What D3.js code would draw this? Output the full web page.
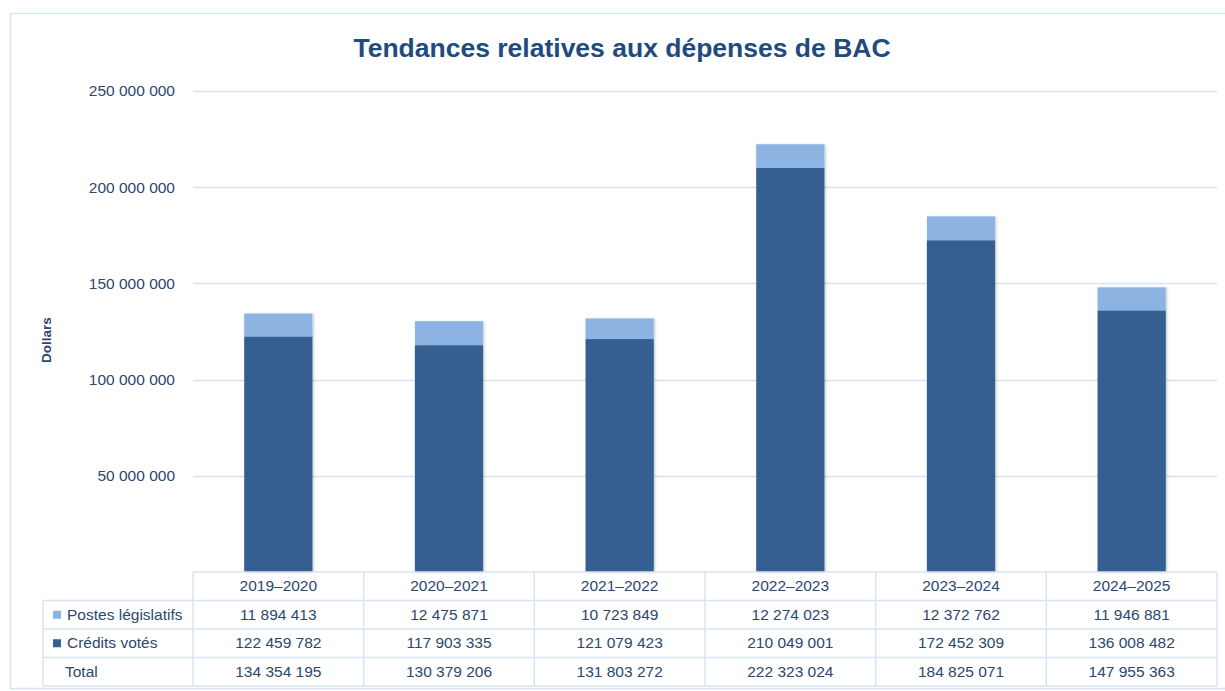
<!DOCTYPE html>
<html>
<head>
<meta charset="utf-8">
<script src="https://cdn.jsdelivr.net/npm/d3@7"></script>
<style>
  body { margin: 0; background: #fff; }
  text { font-family: "Liberation Sans", Arial, sans-serif; }
</style>
</head>
<body>
<svg id="chart" width="1225" height="691"></svg>
<script>
// data
const years = ["2019–2020", "2020–2021", "2021–2022", "2022–2023", "2023–2024", "2024–2025"];
const postes = [11894413, 12475871, 10723849, 12274023, 12372762, 11946881];
const credits = [122459782, 117903335, 121079423, 210049001, 172452309, 136008482];
const totals = [134354195, 130379206, 131803272, 222323024, 184825071, 147955363];
const yTicks = [50000000, 100000000, 150000000, 200000000, 250000000];

const darkBlue = "#365f91";
const lightBlue = "#8db3e2";
const textCol = "#2c4770";
const lineCol = "#d8e3f2";

let fr = d3.formatLocale({ decimal: ",", thousands: " ", grouping: [3], currency: ["", " $"] });
let fmt = fr.format(",d");

let svg = d3.select("#chart");

let left = 193, right = 1217;
let plotTop = 91, base = 572;
let rowH = 28.5;

// frame
svg.append("rect")
  .attr("x", 10.5).attr("y", 13.5)
  .attr("width", 1225).attr("height", 675)
  .attr("fill", "none")
  .attr("stroke", lineCol)
  .attr("stroke-width", 1.5);

svg.append("text")
  .attr("x", 622).attr("y", 57)
  .attr("text-anchor", "middle")
  .attr("font-size", 26.5)
  .attr("font-weight", "bold")
  .attr("fill", "#1f4b7e")
  .text("Tendances relatives aux dépenses de BAC");

let x = d3.scaleBand().domain(years).range([left, right]);
let y = d3.scaleLinear().domain([0, 250000000]).range([base, plotTop]);

// gridlines
svg.append("g")
  .selectAll("line")
  .data(yTicks)
  .join("line")
  .attr("x1", left).attr("x2", right)
  .attr("y1", (d) => Math.round(y(d)) + 0.5)
  .attr("y2", (d) => Math.round(y(d)) + 0.5)
  .attr("stroke", lineCol)
  .attr("stroke-width", 1.5);

let yAxis = d3.axisLeft(y).tickValues(yTicks).tickFormat(fmt).tickSize(0).tickPadding(18);
let ga = svg.append("g").attr("transform", "translate(" + left + ",0)").call(yAxis);
ga.select(".domain").remove();
ga.selectAll("text")
  .attr("font-size", 15.5)
  .attr("fill", textCol)
  .style("font-family", "Liberation Sans, Arial, sans-serif");

svg.append("text")
  .attr("transform", "translate(51,340) rotate(-90)")
  .attr("text-anchor", "middle")
  .attr("font-size", 13.5)
  .attr("font-weight", "bold")
  .attr("fill", textCol)
  .text("Dollars");

// shadow for bars
let defs = svg.append("defs");
let f = defs.append("filter").attr("id", "sh").attr("x", "-10%").attr("y", "-10%").attr("width", "130%").attr("height", "130%");
f.append("feDropShadow").attr("dx", 1.5).attr("dy", 0.5).attr("stdDeviation", 1.2).attr("flood-color", "#000").attr("flood-opacity", 0.18);

let bw = x.bandwidth() * 0.4;
let bars = svg.append("g").attr("filter", "url(#sh)");

bars.selectAll(".cred")
  .data(years)
  .join("rect")
  .attr("class", "cred")
  .attr("x", (d) => x(d) + (x.bandwidth() - bw) / 2)
  .attr("width", bw)
  .attr("y", (d, i) => y(credits[i]))
  .attr("height", (d, i) => y(0) - y(credits[i]))
  .attr("fill", darkBlue);

bars.selectAll(".post")
  .data(years)
  .join("rect")
  .attr("class", "post")
  .attr("x", (d) => x(d) + (x.bandwidth() - bw) / 2)
  .attr("width", bw)
  .attr("y", (d, i) => y(credits[i] + postes[i]))
  .attr("height", (d, i) => y(credits[i]) - y(credits[i] + postes[i]))
  .attr("fill", lightBlue);

// data table
let tbl = svg.append("g");
let legX = 43;
let rows = [
  { name: "Postes législatifs", vals: postes, col: lightBlue },
  { name: "Crédits votés", vals: credits, col: darkBlue },
  { name: "Total", vals: totals, col: null },
];

// horizontal lines
let hl = [base];
for (let i = 1; i <= rows.length + 1; i++) hl.push(base + i * rowH);
tbl.selectAll(".hl")
  .data(hl)
  .join("line")
  .attr("x1", (d, i) => (i == 0 ? left : legX))
  .attr("x2", right)
  .attr("y1", (d) => d)
  .attr("y2", (d) => d)
  .attr("stroke", lineCol)
  .attr("stroke-width", 1.5);

// vertical lines
let vl = years.map((c) => x(c)).concat([right]);
tbl.selectAll(".vl")
  .data(vl)
  .join("line")
  .attr("x1", (d) => d).attr("x2", (d) => d)
  .attr("y1", base)
  .attr("y2", base + rowH * 4)
  .attr("stroke", lineCol)
  .attr("stroke-width", 1.5);
tbl.append("line")
  .attr("x1", legX).attr("x2", legX)
  .attr("y1", base + rowH).attr("y2", base + rowH * 4)
  .attr("stroke", lineCol).attr("stroke-width", 1.5);

// header
tbl.selectAll(".hd")
  .data(years)
  .join("text")
  .attr("x", (d) => x(d) + x.bandwidth() / 2)
  .attr("y", base + rowH / 2 + 5)
  .attr("text-anchor", "middle")
  .attr("font-size", 15.5)
  .attr("fill", textCol)
  .text((d) => d);

rows.forEach((r, ri) => {
  let ry = base + rowH * (ri + 1);
  if (r.col) {
    tbl.append("rect")
      .attr("x", 53).attr("y", ry + rowH / 2 - 4)
      .attr("width", 8).attr("height", 8)
      .attr("fill", r.col);
  }
  tbl.append("text")
    .attr("x", r.col ? 67 : 65)
    .attr("y", ry + rowH / 2 + 5)
    .attr("font-size", 15.5)
    .attr("fill", textCol)
    .text(r.name);
  tbl.selectAll(".v" + ri)
    .data(r.vals)
    .join("text")
    .attr("x", (d, i) => x(years[i]) + x.bandwidth() / 2)
    .attr("y", ry + rowH / 2 + 5)
    .attr("text-anchor", "middle")
    .attr("font-size", 15.5)
    .attr("fill", textCol)
    .text((d) => fmt(d));
});
</script>
</body>
</html>
